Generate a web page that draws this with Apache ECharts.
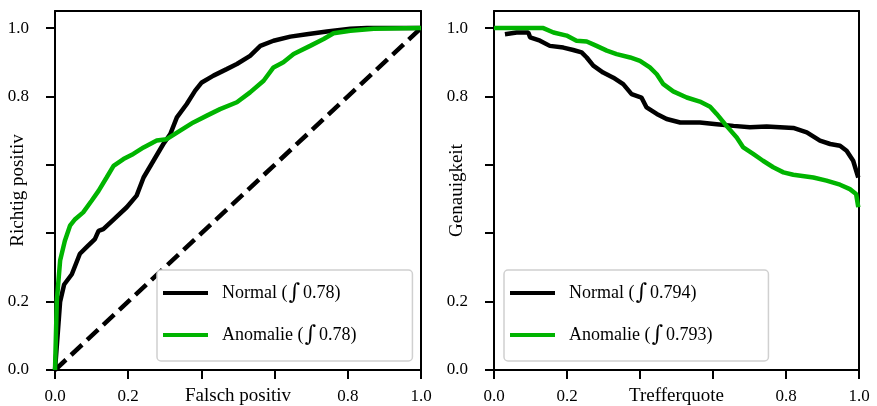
<!DOCTYPE html>
<html>
  <head>
    <meta charset="utf-8">
    <title>ROC / PR</title>
    <script src="https://cdn.jsdelivr.net/npm/echarts@6/dist/echarts.min.js"></script>
  </head>
  <body style="margin:0;background:#fff;">
    <div id="main" style="width:877px;height:406px;"></div>
    <script type="text/javascript">
        // ROC: Falsch positiv / Richtig positiv
        var rocNormalX = [0, 0.014, 0.025, 0.046, 0.068, 0.087, 0.109, 0.119, 0.132, 0.16, 0.196, 0.223, 0.242, 0.269, 0.296, 0.315, 0.333, 0.36, 0.383, 0.401, 0.433, 0.469, 0.497, 0.533, 0.561, 0.597, 0.643, 0.688, 0.743, 0.807, 0.852, 1];
        var rocNormalY = [0, 0.2, 0.25, 0.28, 0.34, 0.36, 0.383, 0.407, 0.412, 0.44, 0.476, 0.51, 0.563, 0.612, 0.661, 0.69, 0.739, 0.778, 0.817, 0.841, 0.861, 0.88, 0.895, 0.919, 0.948, 0.963, 0.975, 0.982, 0.99, 0.998, 1, 1];
        var rocAnomX = [0, 0.005, 0.014, 0.027, 0.041, 0.055, 0.077, 0.1, 0.119, 0.141, 0.16, 0.187, 0.214, 0.242, 0.278, 0.305, 0.342, 0.378, 0.415, 0.451, 0.497, 0.533, 0.57, 0.597, 0.624, 0.652, 0.697, 0.734, 0.761, 0.807, 0.871, 1];
        var rocAnomY = [0, 0.203, 0.32, 0.378, 0.422, 0.441, 0.461, 0.495, 0.524, 0.563, 0.597, 0.617, 0.632, 0.651, 0.671, 0.675, 0.7, 0.724, 0.744, 0.763, 0.783, 0.812, 0.846, 0.885, 0.9, 0.924, 0.948, 0.968, 0.985, 0.992, 0.998, 1];

        // PR: Trefferquote / Genauigkeit
        var prNormalX = [0.03, 0.062, 0.094, 0.099, 0.126, 0.153, 0.19, 0.217, 0.24, 0.254, 0.272, 0.299, 0.327, 0.354, 0.377, 0.404, 0.418, 0.446, 0.473, 0.51, 0.564, 0.61, 0.656, 0.701, 0.747, 0.82, 0.857, 0.893, 0.921, 0.948, 0.966, 0.984, 0.998];
        var prNormalY = [0.982, 0.987, 0.987, 0.973, 0.963, 0.948, 0.943, 0.936, 0.929, 0.914, 0.89, 0.87, 0.855, 0.836, 0.807, 0.797, 0.768, 0.749, 0.734, 0.724, 0.724, 0.719, 0.714, 0.71, 0.712, 0.708, 0.695, 0.671, 0.661, 0.656, 0.641, 0.612, 0.563];
        var prAnomX = [0, 0.135, 0.163, 0.199, 0.226, 0.254, 0.281, 0.309, 0.336, 0.373, 0.4, 0.427, 0.446, 0.464, 0.491, 0.528, 0.564, 0.592, 0.61, 0.637, 0.665, 0.683, 0.71, 0.737, 0.765, 0.793, 0.82, 0.875, 0.911, 0.948, 0.975, 0.992, 0.998];
        var prAnomY = [1, 1, 0.987, 0.978, 0.963, 0.961, 0.948, 0.934, 0.924, 0.914, 0.904, 0.885, 0.865, 0.836, 0.815, 0.797, 0.785, 0.77, 0.749, 0.714, 0.68, 0.651, 0.632, 0.612, 0.593, 0.578, 0.571, 0.563, 0.554, 0.542, 0.529, 0.515, 0.476];

        var diagX = [0, 1];
        var diagY = [0, 1];

        var rocNames = ['Normal (\u222B0.78)', 'Anomalie (\u222B0.78)'];
        var prNames = ['Normal (\u222B0.794)', 'Anomalie (\u222B0.793)'];
        var tickValues = [0, 0.2, 0.4, 0.6, 0.8, 1.0];
        var hiddenTicks = [0.4, 0.6];

        function zip(xs, ys) {
          return xs.map(function (x, i) { return [x, ys[i]]; });
        }

        var FONT = 'Liberation Serif';
        var GREEN = '#00b400';

        function tickFmt(v) {
          for (var i = 0; i < hiddenTicks.length; i++) {
            if (Math.abs(v - hiddenTicks[i]) < 1e-6) return '';
          }
          return v.toFixed(1);
        }

        function xAxis(idx, name) {
          return {
            type: 'value', gridIndex: idx, min: 0, max: 1, interval: 0.2,
            name: name, nameLocation: 'middle', nameGap: 17, nameMoveOverlap: false,
            nameTextStyle: { fontFamily: FONT, fontSize: 19, color: '#000' },
            axisLine: { onZero: false, lineStyle: { color: '#000', width: 2 } },
            axisTick: { length: 9, lineStyle: { width: 2 } },
            axisLabel: { fontFamily: FONT, fontSize: 17, color: '#000', margin: 18, formatter: tickFmt, showMaxLabel: true },
            splitLine: { show: false }
          };
        }
        function xTop(idx) {
          return {
            type: 'value', gridIndex: idx, min: 0, max: 1, position: 'top',
            axisLine: { onZero: false, lineStyle: { color: '#000', width: 2 } },
            axisTick: { show: false }, axisLabel: { show: false }, splitLine: { show: false }
          };
        }
        function yAxis(idx, name) {
          return {
            type: 'value', gridIndex: idx, min: 0, max: 1.05,
            name: name, nameLocation: 'middle', nameGap: 27, nameMoveOverlap: false,
            nameTextStyle: { fontFamily: FONT, fontSize: 19, color: '#000' },
            axisLine: { onZero: false, lineStyle: { color: '#000', width: 2 } },
            axisTick: { length: 9, lineStyle: { width: 2 }, customValues: tickValues },
            axisLabel: { fontFamily: FONT, fontSize: 17, color: '#000', margin: 26, formatter: tickFmt, customValues: tickValues },
            splitLine: { show: false }
          };
        }
        function yRight(idx) {
          return {
            type: 'value', gridIndex: idx, min: 0, max: 1.05, position: 'right',
            axisLine: { onZero: false, lineStyle: { color: '#000', width: 2 } },
            axisTick: { show: false }, axisLabel: { show: false }, splitLine: { show: false }
          };
        }
        function line(name, data, color, xi, yi, dash) {
          var s = {
            name: name, type: 'line', xAxisIndex: xi, yAxisIndex: yi,
            data: data, showSymbol: false, symbol: 'none', animation: false,
            lineStyle: { color: color, width: 4.5 }, itemStyle: { color: color }, z: 3
          };
          if (dash) s.lineStyle.type = dash;
          return s;
        }
        function legend(names, left) {
          return {
            data: names, left: left, top: 270, orient: 'vertical',
            icon: 'rect', itemWidth: 45, itemHeight: 4, itemGap: 20,
            padding: [12, 56, 15, 6],
            backgroundColor: '#fff', borderColor: '#d0d0d0', borderWidth: 1.5, borderRadius: 4,
            formatter: function (n) { return n.replace('\u222B', '{i|\u222B}'); },
            textStyle: {
              fontFamily: FONT, fontSize: 18, color: '#000', padding: [0, 0, 0, 9],
              rich: { i: { fontFamily: 'DejaVu Serif', fontSize: 22, color: '#000', padding: [0, 3, 0, 1] } }
            },
            selectedMode: false
          };
        }

        var myChart = echarts.init(document.getElementById('main'));
        myChart.setOption({
          backgroundColor: '#fff',
          animation: false,
          grid: [
            { left: 55, top: 11, width: 366, height: 359, outerBoundsMode: 'none' },
            { left: 494, top: 11, width: 365, height: 359, outerBoundsMode: 'none' }
          ],
          xAxis: [xAxis(0, 'Falsch positiv'), xAxis(1, 'Trefferquote'), xTop(0), xTop(1)],
          yAxis: [yAxis(0, 'Richtig positiv'), yAxis(1, 'Genauigkeit'), yRight(0), yRight(1)],
          legend: [legend(rocNames, 157), legend(prNames, 504)],
          series: [
            line('diag', zip(diagX, diagY), '#000', 0, 0, [15, 7]),
            line(rocNames[0], zip(rocNormalX, rocNormalY), '#000', 0, 0),
            line(rocNames[1], zip(rocAnomX, rocAnomY), GREEN, 0, 0),
            line(prNames[0], zip(prNormalX, prNormalY), '#000', 1, 1),
            line(prNames[1], zip(prAnomX, prAnomY), GREEN, 1, 1)
          ]
        });
    </script>
  </body>
</html>
